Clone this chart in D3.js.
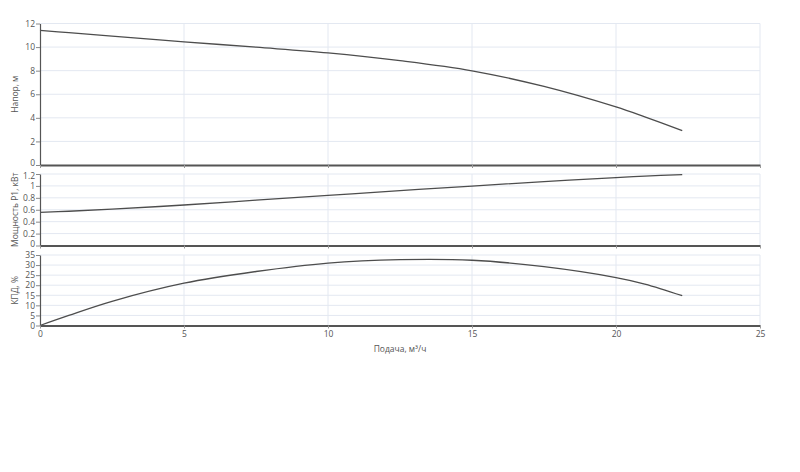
<!DOCTYPE html>
<html>
<head>
<meta charset="utf-8">
<script src="https://cdn.jsdelivr.net/npm/d3@7"></script>
<style>
  body { margin: 0; background: #fff; }
  text { font-family: "Open Sans", sans-serif; }
</style>
</head>
<body>
<div id="chart"></div>
<script>
// values
const flow = [0, 1, 2.5, 5, 7.5, 10, 12.5, 15, 17.5, 20, 21, 22.3];
const head = [11.41, 11.22, 10.93, 10.45, 9.99, 9.51, 8.85, 7.99, 6.66, 4.92, 4.08, 2.92];
const power = [0.555, 0.575, 0.61, 0.68, 0.76, 0.84, 0.92, 0.998, 1.072, 1.14, 1.165, 1.19];
const efficiency = [0, 5, 12, 21, 26.8, 31, 32.7, 32.4, 29.2, 23.8, 20.6, 14.8];
const xTicks = [0, 5, 10, 15, 20, 25];

const width = 800;
const height = 472;
const left = 40;
const right = 760;
const fontSize = '8.5px';

const panels = [
  { title: 'Напор, м', values: head, top: 23.5, bottom: 165, domain: [0, 12], ticks: [0, 2, 4, 6, 8, 10, 12] },
  { title: 'Мощность P1, кВт', values: power, top: 174, bottom: 245.5, domain: [0, 1.2], ticks: [0, 0.2, 0.4, 0.6, 0.8, 1, 1.2] },
  { title: 'КПД, %', values: efficiency, top: 255, bottom: 325.5, domain: [0, 35], ticks: [0, 5, 10, 15, 20, 25, 30, 35] }
];

const svg = d3.select('#chart')
  .append('svg')
  .attr('width', width)
  .attr('height', height);

const x = d3.scaleLinear().domain([0, 25]).range([left, right]);

const fmt = d => String(+d.toFixed(2));

panels.forEach((p, i) => {
  const y = d3.scaleLinear().domain(p.domain).range([p.bottom, p.top]);
  const g = svg.append('g');
  const last = i === panels.length - 1;

  // grid
  g.selectAll('.hg')
    .data(p.ticks.slice(1))
    .enter()
    .append('line')
    .attr('x1', left)
    .attr('x2', right)
    .attr('y1', d => y(d))
    .attr('y2', d => y(d))
    .style('stroke', '#e3e8f1')
    .style('stroke-width', 1);

  g.selectAll('.vg')
    .data(xTicks.slice(1))
    .enter()
    .append('line')
    .attr('x1', d => x(d))
    .attr('x2', d => x(d))
    .attr('y1', p.top)
    .attr('y2', p.bottom)
    .style('stroke', '#e3e8f1')
    .style('stroke-width', 1);

  // curve
  const line = d3.line()
    .x((d, k) => x(flow[k]))
    .y(d => y(d))
    .curve(d3.curveCatmullRom.alpha(0.5));

  g.append('path')
    .datum(p.values)
    .attr('d', line)
    .style('fill', 'none')
    .style('stroke', '#4d4d4d')
    .style('stroke-width', 1.3);

  // left axis
  const yAxis = g.append('g')
    .attr('transform', `translate(${left},0)`)
    .call(d3.axisLeft(y).tickValues(p.ticks).tickFormat(fmt).tickSize(4).tickSizeOuter(0));
  yAxis.select('.domain').style('stroke', '#555').style('stroke-width', 1.2);
  yAxis.selectAll('.tick line').style('stroke', '#888');
  yAxis.selectAll('.tick text')
    .attr('x', -5)
    .style('font-size', fontSize)
    .style('fill', '#555');
  // keep the labels at the panel joins apart
  if (!last) yAxis.selectAll('.tick text').filter(d => d === 0).attr('dy', '0.1em');
  if (i === 1) yAxis.selectAll('.tick text').filter(d => d === p.domain[1]).attr('dy', '0.5em');

  // bottom axis
  const xAxis = g.append('g')
    .attr('transform', `translate(0,${p.bottom})`)
    .call(d3.axisBottom(x).tickValues(xTicks).tickSize(3).tickSizeOuter(0));
  xAxis.select('.domain').style('stroke', '#555').style('stroke-width', 2);
  xAxis.selectAll('.tick line').style('stroke', '#999');
  xAxis.selectAll('.tick text')
    .attr('y', 5)
    .style('font-size', fontSize)
    .style('fill', '#555')
    .style('display', last ? null : 'none');

  // axis title
  svg.append('text')
    .attr('transform', `translate(18,${(p.top + p.bottom) / 2}) rotate(-90)`)
    .attr('text-anchor', 'middle')
    .style('font-size', fontSize)
    .style('fill', '#555')
    .text(p.title);
});

svg.append('text')
  .attr('x', (left + right) / 2)
  .attr('y', 352)
  .attr('text-anchor', 'middle')
  .style('font-size', fontSize)
  .style('fill', '#555')
  .text('Подача, м³/ч');
</script>
</body>
</html>
